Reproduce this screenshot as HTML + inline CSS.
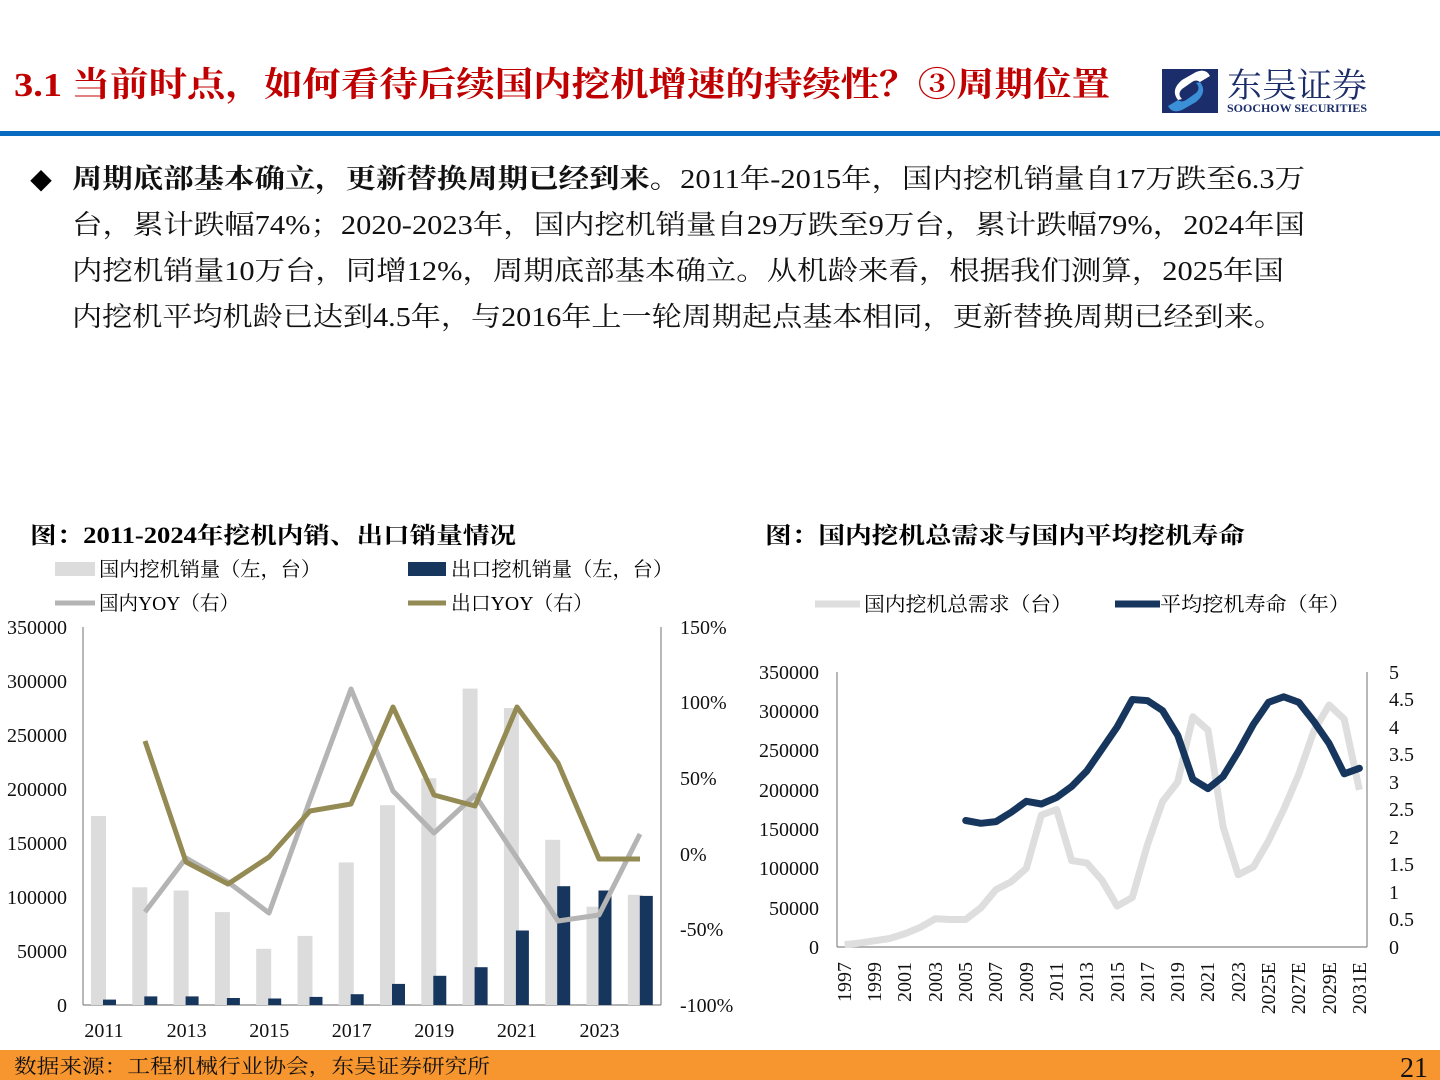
<!DOCTYPE html>
<html><head><meta charset="utf-8"><style>
html,body{margin:0;padding:0;background:#fff;}
svg{display:block;}
text{font-family:"Liberation Serif","Noto Serif CJK SC",serif;}
</style></head><body>
<svg width="1440" height="1080" viewBox="0 0 1440 1080" xmlns="http://www.w3.org/2000/svg">
<text x="14" y="96" font-size="34" font-weight="bold" fill="#c00000" textLength="1096" lengthAdjust="spacingAndGlyphs">3.1  当前时点，如何看待后续国内挖机增速的持续性？③周期位置</text>
<g>
<rect x="1162" y="69" width="56" height="44" fill="#1b2d6b"/>
<path d="M1178 100 q-8 -10 4 -20 l14 -8 q10 -4 14 4 l-10 6 q-4 -3 -8 0 l-10 7 q-5 5 0 10z" fill="#fff"/>
<path d="M1200 82 q8 10 -4 20 l-14 8 q-10 4 -14 -4 l10 -6 q4 3 8 0 l10 -7 q5 -5 0 -10z" fill="#3a8fd6"/>
<text x="1227" y="97" font-size="34" fill="#1b2d6b" font-family="'Noto Sans CJK SC',sans-serif" textLength="140" lengthAdjust="spacingAndGlyphs">东吴证券</text>
<text x="1227" y="112" font-size="12" font-weight="bold" fill="#1b2d6b" font-family="'Liberation Sans',sans-serif" textLength="140" lengthAdjust="spacingAndGlyphs">SOOCHOW SECURITIES</text>
</g>
<rect x="0" y="131" width="1440" height="5" fill="#0a6cc0"/>

<text x="30" y="189" font-size="22" fill="#000">◆</text>
<g font-size="27" fill="#111">
<text x="72" y="188" textLength="1233" lengthAdjust="spacingAndGlyphs"><tspan font-weight="bold">周期底部基本确立，更新替换周期已经到来。</tspan>2011年-2015年，国内挖机销量自17万跌至6.3万</text>
<text x="72" y="234" textLength="1233" lengthAdjust="spacingAndGlyphs">台，累计跌幅74%；2020-2023年，国内挖机销量自29万跌至9万台，累计跌幅79%，2024年国</text>
<text x="72" y="280" textLength="1212" lengthAdjust="spacingAndGlyphs">内挖机销量10万台，同增12%，周期底部基本确立。从机龄来看，根据我们测算，2025年国</text>
<text x="72" y="326" textLength="1212" lengthAdjust="spacingAndGlyphs">内挖机平均机龄已达到4.5年，与2016年上一轮周期起点基本相同，更新替换周期已经到来。</text>
</g>

<text x="30" y="543" font-size="23" font-weight="bold" fill="#000" textLength="486" lengthAdjust="spacingAndGlyphs">图：2011-2024年挖机内销、出口销量情况</text>
<text x="765" y="543" font-size="23" font-weight="bold" fill="#000" textLength="480" lengthAdjust="spacingAndGlyphs">图：国内挖机总需求与国内平均挖机寿命</text>

<rect x="55" y="562" width="40" height="14" fill="#dcdcdc"/>
<text x="99" y="576" font-size="20" textLength="222" lengthAdjust="spacingAndGlyphs">国内挖机销量（左，台）</text>
<rect x="408" y="562" width="38" height="14" fill="#17365d"/>
<text x="451" y="576" font-size="20" textLength="222" lengthAdjust="spacingAndGlyphs">出口挖机销量（左，台）</text>
<line x1="55" y1="603" x2="95" y2="603" stroke="#b4b4b4" stroke-width="5"/>
<text x="99" y="610" font-size="20" textLength="140" lengthAdjust="spacingAndGlyphs">国内YOY（右）</text>
<line x1="408" y1="603" x2="446" y2="603" stroke="#948a54" stroke-width="5"/>
<text x="451" y="610" font-size="20" textLength="142" lengthAdjust="spacingAndGlyphs">出口YOY（右）</text>

<g stroke="#888" stroke-width="1.2" fill="none">
<line x1="83" y1="627" x2="83" y2="1005"/>
<line x1="661" y1="627" x2="661" y2="1005"/>
<line x1="83" y1="1005" x2="661" y2="1005"/>
</g>
<g fill="#dcdcdc">
<rect x="91" y="816" width="15" height="189"/>
<rect x="132.3" y="887.3" width="15" height="117.7"/>
<rect x="173.6" y="890.5" width="15" height="114.5"/>
<rect x="214.9" y="912.1" width="15" height="92.9"/>
<rect x="256.2" y="948.8" width="15" height="56.2"/>
<rect x="297.5" y="935.9" width="15" height="69.1"/>
<rect x="338.7" y="862.4" width="15" height="142.6"/>
<rect x="380" y="805.2" width="15" height="199.8"/>
<rect x="421.3" y="778.2" width="15" height="226.8"/>
<rect x="462.6" y="688.6" width="15" height="316.4"/>
<rect x="503.9" y="708" width="15" height="297"/>
<rect x="545.2" y="839.8" width="15" height="165.2"/>
<rect x="586.5" y="906.7" width="15" height="98.3"/>
<rect x="627.8" y="894.8" width="15" height="110.2"/>
</g>
<g fill="#17365d">
<rect x="103" y="999.6" width="13" height="5.4"/>
<rect x="144.3" y="996.4" width="13" height="8.6"/>
<rect x="185.6" y="996.4" width="13" height="8.6"/>
<rect x="226.9" y="998" width="13" height="7"/>
<rect x="268.2" y="998.5" width="13" height="6.5"/>
<rect x="309.5" y="996.9" width="13" height="8.1"/>
<rect x="350.7" y="994.2" width="13" height="10.8"/>
<rect x="392" y="983.9" width="13" height="21.1"/>
<rect x="433.3" y="975.8" width="13" height="29.2"/>
<rect x="474.6" y="967.2" width="13" height="37.8"/>
<rect x="515.9" y="930.5" width="13" height="74.5"/>
<rect x="557.2" y="886.2" width="13" height="118.8"/>
<rect x="598.5" y="890.5" width="13" height="114.5"/>
<rect x="639.8" y="895.9" width="13" height="109.1"/>
</g>
<polyline fill="none" stroke="#b4b4b4" stroke-width="5" stroke-linejoin="round" points="145,912 186,858 228,882 269,913 310,800 351,689 393,791 434,833 475,795 517,858 558,921 599,915 640,834"/>
<polyline fill="none" stroke="#948a54" stroke-width="5" stroke-linejoin="round" points="145,741 186,862 228,884 269,857 310,811 351,804 393,707 434,795 475,806 517,707 558,763 599,859 640,859"/>
<g font-size="20" text-anchor="end" fill="#111">
<text x="67" y="634">350000</text><text x="67" y="688">300000</text><text x="67" y="742">250000</text>
<text x="67" y="796">200000</text><text x="67" y="850">150000</text><text x="67" y="904">100000</text>
<text x="67" y="958">50000</text><text x="67" y="1012">0</text>
</g>
<g font-size="20" fill="#111">
<text x="680" y="634">150%</text><text x="680" y="709">100%</text><text x="680" y="785">50%</text>
<text x="680" y="861">0%</text><text x="680" y="936">-50%</text><text x="680" y="1012">-100%</text>
</g>
<g font-size="20" text-anchor="middle" fill="#111">
<text x="104" y="1037">2011</text><text x="186.6" y="1037">2013</text><text x="269.2" y="1037">2015</text>
<text x="351.7" y="1037">2017</text><text x="434.3" y="1037">2019</text><text x="516.9" y="1037">2021</text>
<text x="599.5" y="1037">2023</text>
</g>

<line x1="815" y1="604" x2="860" y2="604" stroke="#dedede" stroke-width="7"/>
<text x="864" y="611" font-size="20" textLength="208" lengthAdjust="spacingAndGlyphs">国内挖机总需求（台）</text>
<line x1="1115" y1="604" x2="1160" y2="604" stroke="#17365d" stroke-width="7"/>
<text x="1160" y="611" font-size="20" textLength="190" lengthAdjust="spacingAndGlyphs">平均挖机寿命（年）</text>

<g stroke="#888" stroke-width="1.2" fill="none">
<line x1="837" y1="672" x2="837" y2="947"/>
<line x1="1367" y1="672" x2="1367" y2="947"/>
<line x1="837" y1="947" x2="1367" y2="947"/>
</g>
<polyline fill="none" stroke="#dedede" stroke-width="7" stroke-linejoin="round" points="844.6,944.6 859.7,943.1 874.9,940.7 890,938.4 905.2,933.6 920.3,927.4 935.4,918.7 950.6,919.5 965.7,919.5 980.9,907.7 996,889.6 1011.1,881.8 1026.3,868.4 1041.4,815 1056.6,809.5 1071.7,860.6 1086.8,862.9 1102,880.2 1117.1,906.1 1132.3,897.5 1147.4,844.9 1162.5,801.6 1177.7,782 1192.8,716.8 1208,730.1 1223.1,826.8 1238.2,874.7 1253.4,866.9 1268.5,840.9 1283.7,809.5 1298.8,774.1 1313.9,730.9 1329.1,705 1344.2,719.1 1359.4,789.9"/>
<polyline fill="none" stroke="#17365d" stroke-width="7" stroke-linejoin="round" stroke-linecap="round" points="965.7,820.5 980.9,823.3 996,821.6 1011.1,812.3 1026.3,801.3 1041.4,804 1056.6,797.4 1071.7,786.4 1086.8,771 1102,749 1117.1,727 1132.3,699.5 1147.4,700.6 1162.5,710.5 1177.7,735.3 1192.8,779.3 1208,788.6 1223.1,776.5 1238.2,751.8 1253.4,724.3 1268.5,702.3 1283.7,696.8 1298.8,702.3 1313.9,721.5 1329.1,743.5 1344.2,773.8 1359.4,768.3"/>
<g font-size="20" text-anchor="end" fill="#111">
<text x="819" y="679">350000</text><text x="819" y="718">300000</text><text x="819" y="757">250000</text>
<text x="819" y="797">200000</text><text x="819" y="836">150000</text><text x="819" y="875">100000</text>
<text x="819" y="915">50000</text><text x="819" y="954">0</text>
</g>
<g font-size="20" fill="#111">
<text x="1389" y="679">5</text><text x="1389" y="706">4.5</text><text x="1389" y="734">4</text>
<text x="1389" y="761">3.5</text><text x="1389" y="789">3</text><text x="1389" y="816">2.5</text>
<text x="1389" y="844">2</text><text x="1389" y="871">1.5</text><text x="1389" y="899">1</text>
<text x="1389" y="926">0.5</text><text x="1389" y="954">0</text>
</g>
<g font-size="20" text-anchor="end" fill="#111">
<text transform="translate(851,962) rotate(-90)">1997</text>
<text transform="translate(881,962) rotate(-90)">1999</text>
<text transform="translate(911,962) rotate(-90)">2001</text>
<text transform="translate(942,962) rotate(-90)">2003</text>
<text transform="translate(972,962) rotate(-90)">2005</text>
<text transform="translate(1002,962) rotate(-90)">2007</text>
<text transform="translate(1033,962) rotate(-90)">2009</text>
<text transform="translate(1063,962) rotate(-90)">2011</text>
<text transform="translate(1093,962) rotate(-90)">2013</text>
<text transform="translate(1124,962) rotate(-90)">2015</text>
<text transform="translate(1154,962) rotate(-90)">2017</text>
<text transform="translate(1184,962) rotate(-90)">2019</text>
<text transform="translate(1214,962) rotate(-90)">2021</text>
<text transform="translate(1245,962) rotate(-90)">2023</text>
<text transform="translate(1275,962) rotate(-90)">2025E</text>
<text transform="translate(1305,962) rotate(-90)">2027E</text>
<text transform="translate(1336,962) rotate(-90)">2029E</text>
<text transform="translate(1366,962) rotate(-90)">2031E</text>
</g>

<rect x="0" y="1050" width="1440" height="30" fill="#f7962f"/>
<text x="14" y="1073" font-size="20" fill="#111" textLength="476" lengthAdjust="spacingAndGlyphs">数据来源：工程机械行业协会，东吴证券研究所</text>
<text x="1428" y="1077" font-size="28" text-anchor="end" fill="#111">21</text>
</svg>
</body></html>
